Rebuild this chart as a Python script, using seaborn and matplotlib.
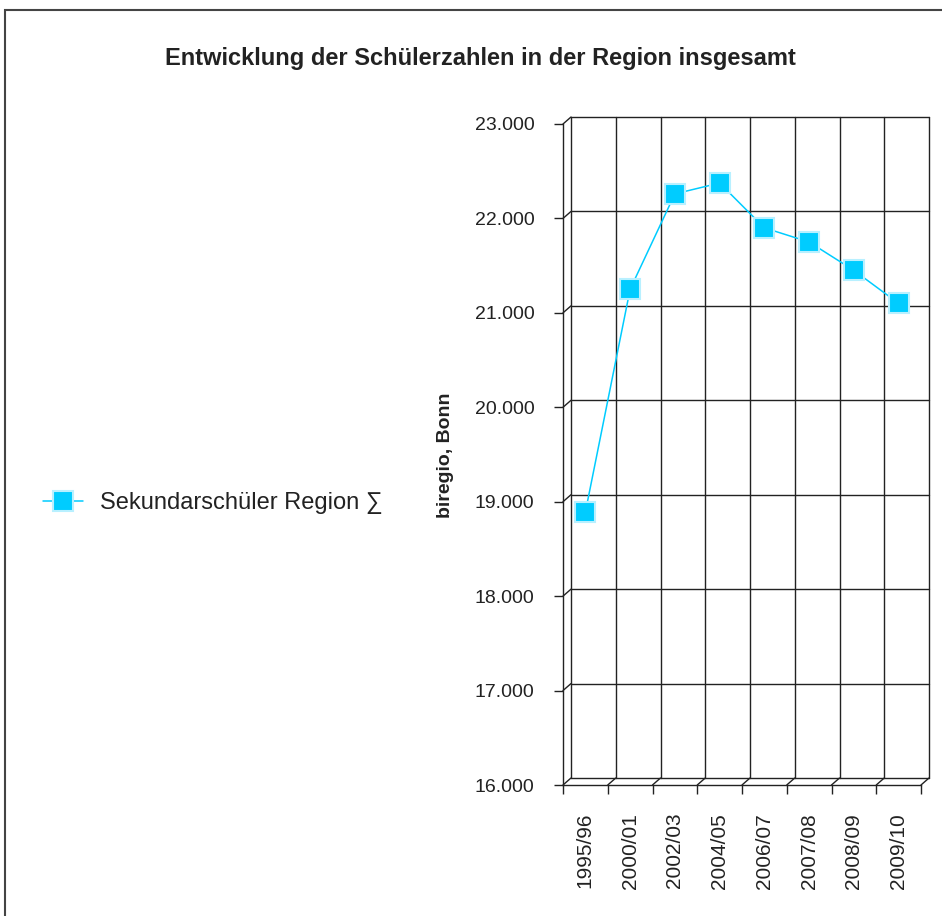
import numpy as np
import pandas as pd
import matplotlib
matplotlib.use("Agg")
import matplotlib.pyplot as plt
import matplotlib.transforms as mtransforms
from matplotlib.lines import Line2D
from matplotlib.patches import Rectangle
import seaborn as sns

# ---- data ----
categories = ["1995/96", "2000/01", "2002/03", "2004/05", "2006/07", "2007/08", "2008/09", "2009/10"]
values = [18890, 21250, 22260, 22375, 21900, 21750, 21450, 21100]
series_name = "Sekundarschüler Region \u2211"
y_ticks = [16000, 17000, 18000, 19000, 20000, 21000, 22000, 23000]
y_tick_labels = ["16.000", "17.000", "18.000", "19.000", "20.000", "21.000", "22.000", "23.000"]
title = "Entwicklung der Schülerzahlen in der Region insgesamt"
y_label = "biregio, Bonn"

sns.set_theme(style="white")
plt.rcParams["font.family"] = ["Liberation Sans", "DejaVu Sans"]

W, H = 942, 916
fig = plt.figure(figsize=(W / 100, H / 100), dpi=100)
fig.patch.set_facecolor("white")

# front plane of the pseudo-3D axes
x0, x1, ytop, ybot = 563, 921, 124, 785
ax = fig.add_axes([x0 / W, 1 - ybot / H, (x1 - x0) / W, (ybot - ytop) / H])
ax.set_facecolor("none")

df = pd.DataFrame({"pos": np.arange(len(categories)), "val": values})
cyan = "#00CCFF"
edge = "#b8f0ff"
sns.lineplot(data=df, x="pos", y="val", ax=ax, color=cyan, lw=1.1,
             marker="s", markersize=14, markerfacecolor=cyan,
             markeredgecolor=edge, markeredgewidth=1.5, clip_on=False, zorder=5)

ax.set_xlim(-0.5, len(categories) - 0.5)
ax.set_ylim(y_ticks[0], y_ticks[-1])
ax.set_xlabel("")
ax.set_ylabel("")

# ticks
bounds = np.arange(len(categories) + 1) - 0.5
ax.set_xticks(bounds)
ax.set_xticklabels([""] * len(bounds))
ax.set_xticks(np.arange(len(categories)), minor=True)
ax.set_xticklabels(categories, minor=True, rotation=90, fontsize=15, color="#222222")
ax.tick_params(axis="x", which="major", direction="out", length=6.5, width=1.0,
               color="#222222", bottom=True)
ax.tick_params(axis="x", which="minor", length=0, pad=20, bottom=True)
ax.set_yticks(y_ticks)
ax.set_yticklabels(y_tick_labels, fontsize=14, color="#222222")
ax.tick_params(axis="y", direction="out", length=6.5, width=1.0, color="#222222",
               pad=14, left=True)

for s in ["top", "right"]:
    ax.spines[s].set_visible(False)
for s in ["left", "bottom"]:
    ax.spines[s].set_color("#222222")
    ax.spines[s].set_linewidth(1.0)

# back wall with offset (depth)
off = mtransforms.ScaledTranslation(0.08, 0.07, fig.dpi_scale_trans)
tback = ax.transData + off
lc = "#222222"
lw = 1.0
xl, xr = bounds[0], bounds[-1]
for yv in y_ticks:
    ax.plot([xl, xr], [yv, yv], transform=tback, color=lc, lw=lw, clip_on=False, zorder=1)
for xv in bounds:
    ax.plot([xv, xv], [y_ticks[0], y_ticks[-1]], transform=tback, color=lc, lw=lw,
            clip_on=False, zorder=1)

# diagonal connectors from front to back
dx_px, dy_px = 8, 7
def diag(xd, yd):
    p = ax.transData.transform((xd, yd))
    q = p + np.array([dx_px, dy_px])
    pf = fig.transFigure.inverted().transform(p)
    qf = fig.transFigure.inverted().transform(q)
    fig.add_artist(Line2D([pf[0], qf[0]], [pf[1], qf[1]], color=lc, lw=lw))

for yv in y_ticks:
    diag(xl, yv)
for xv in bounds[1:]:
    diag(xv, y_ticks[0])

# texts
fig.text(480 / W, 1 - 58 / H, title, ha="center", va="center", fontsize=17,
         fontweight="bold", color="#222222")
fig.text(445 / W, 1 - 455 / H, y_label, ha="center", va="center", rotation=90,
         fontsize=14, fontweight="bold", color="#222222")

# legend
handle = Line2D([0], [0], color=cyan, lw=1.1, marker="s", markersize=14,
                markerfacecolor=cyan, markeredgecolor=edge, markeredgewidth=1.5)
fig.legend([handle], [series_name], loc="center left",
           bbox_to_anchor=(22 / W, 1 - 503 / H), frameon=False, fontsize=17,
           handlelength=1.7, handletextpad=0.7, labelcolor="#222222")

# outer border (top and left visible)
fig.add_artist(Rectangle((5 / W, -0.1), 2.0, (1 - 10 / H) + 0.1,
                         transform=fig.transFigure, fill=False, ec="#444444", lw=1.5))

fig.savefig("out.png", dpi=100)
